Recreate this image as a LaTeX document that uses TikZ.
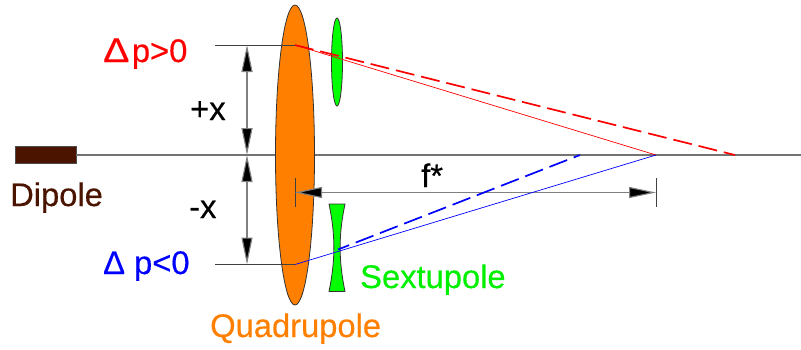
\documentclass[tikz,border=0pt]{standalone}
\usepackage{fontspec}
\setmainfont{Liberation Sans}[RawFeature={embolden=0.35}]
\usetikzlibrary{arrows.meta}
\definecolor{brownD}{HTML}{4A1400}
\definecolor{orangeQ}{HTML}{FF8000}
\definecolor{greenS}{HTML}{00FF00}
\definecolor{greenT}{HTML}{00F000}
\begin{document}
\begin{tikzpicture}[x=1pt,y=-1pt,
  guide/.style={draw=black!55,line width=1.1pt},
  thinline/.style={draw=black!75,line width=0.8pt},
  dim/.style={draw=black!50,line width=1.1pt,{Triangle[length=27pt,width=11pt,fill=black]}-{Triangle[length=27pt,width=11pt,fill=black]}},
  ray/.style={line width=0.7pt},
  dray/.style={line width=1.7pt,dash pattern=on 19pt off 7pt},
  lens/.style={draw=black!80,line width=0.8pt},
  lbl/.style={inner sep=0pt,anchor=base west,font=\fontsize{32.7}{38}\selectfont}]
\useasboundingbox (0,0) rectangle (801,349);
\fill[white] (0,0) rectangle (801,349);
\coordinate (axisend) at (801,155);
\coordinate (up) at (295,45);
\coordinate (down) at (295,264.5);
\coordinate (upl) at (215,45);
\coordinate (downl) at (215,264.5);
\coordinate (focus) at (656,155);
\coordinate (fup) at (735,155);
\coordinate (fdown) at (580,155);
\coordinate (dstart) at (338,249.5);
\coordinate (xu) at (247,45);
\coordinate (x0) at (247,155);
\coordinate (xd) at (247,264.5);
\coordinate (fa) at (295,192.5);
\coordinate (fb) at (656,192.5);
\coordinate (t1a) at (295,178);
\coordinate (t1b) at (295,207);
\coordinate (t2a) at (656,178);
\coordinate (t2b) at (656,207);
% dipole and axis
\node[draw=black!70,fill=brownD,line width=0.5pt,minimum width=61pt,minimum height=17pt,inner sep=0pt] (dipole) at (45.5,155) {};
\draw[guide] (dipole.east) -- (axisend);
% quadrupole
\draw[lens,fill=orangeQ] (295,155) ellipse [x radius=19.5,y radius=150];
% sextupole lenses
\draw[lens,fill=greenS] (337,62) ellipse [x radius=5.5,y radius=44];
\draw[lens,fill=greenS] (329,204) -- (345,204) .. controls (338.5,235) and (338.5,260) .. (345,291.5) -- (329,291.5) .. controls (335.5,260) and (335.5,235) .. (329,204) -- cycle;
% guides
\draw[thinline] (upl) -- (up);
\draw[thinline] (downl) -- (down);
\draw[thinline] (t1a) -- (t1b);
\draw[thinline] (t2a) -- (t2b);
% dimension arrows
\draw[dim] (xu) -- (x0);
\draw[dim] (x0) -- (xd);
\draw[dim] (fa) -- (fb);
% rays
\draw[ray,red] (up) -- (focus);
\draw[dray,red] (up) -- (fup);
\draw[ray,blue] (down) -- (focus);
\draw[dray,blue,dash phase=7pt] (dstart) -- (fdown);
% labels
\node[lbl,text=red] (lp) at (103,62) {\scalebox{1.2}[1.05]{Δ}\hspace{2.5pt}p>0};
\node[lbl,text=blue] (lm) at (103,274) {Δ p<0};
\node[lbl] (px) at (190,120) {+x};
\node[lbl] (mx) at (189,218) {-x};
\node[lbl] (fs) at (421,187) {f*};
\node[lbl,text=brownD] (dl) at (10,206) {Dipole};
\node[lbl,text=greenT] (sl) at (360,288) {Sextupole};
\node[lbl,text=orangeQ] (ql) at (210,337) {Quadrupole};
\end{tikzpicture}
\end{document}
